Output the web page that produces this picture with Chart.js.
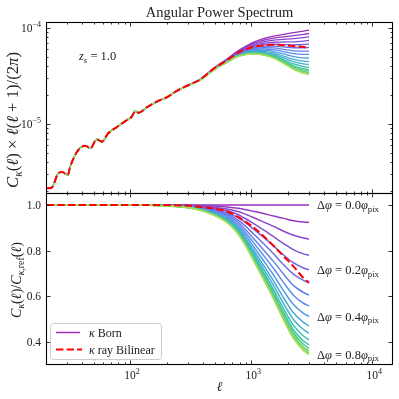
<!DOCTYPE html>
<html lang="en">
<head>
  <meta charset="UTF-8">
  <title>Angular Power Spectrum</title>
  <script src="https://cdn.jsdelivr.net/npm/chart.js"></script>
  <style>
    html, body { margin: 0; padding: 0; background: #ffffff; }
    #wrap { position: relative; width: 399px; height: 399px; }
    #wrap canvas { position: absolute; left: 0; top: 0; }
  </style>
</head>
<body>
<div id="wrap">
  <canvas id="bottom_panel" width="399" height="399"></canvas>
  <canvas id="top_panel" width="399" height="399"></canvas>
</div>

<script>
  // multipoles shared by every curve
  const ell = [20.5, 22.5, 25.5, 27.5, 30.5, 32, 36.5, 42.5, 47, 53, 58.5, 66, 80, 94, 103, 110, 117,
               137, 166, 201, 243, 304, 380, 490, 630, 750, 860, 1040, 1260, 1530, 1850, 2240, 2700, 3000];

  // l(l+1)C/(2pi) of the Born map with no shift (top panel reference)
  const bornRef = [2.14e-6, 2.17e-6, 3.06e-6, 3.16e-6, 2.94e-6, 3.60e-6, 5.15e-6, 5.94e-6, 5.58e-6, 6.92e-6,
                   6.55e-6, 8.0e-6, 9.53e-6, 1.10e-5, 1.19e-5, 1.36e-5, 1.31e-5,
                   1.49e-5, 1.71e-5, 1.90e-5, 2.22e-5, 2.55e-5, 2.94e-5, 3.82e-5, 4.75e-5, 5.61e-5, 6.24e-5,
                   7.1e-5, 7.75e-5, 8.25e-5, 8.6e-5, 8.95e-5, 9.3e-5, 9.5e-5];

  // ray traced, bilinear interpolation
  const rayBilinear = [2.14e-6, 2.17e-6, 3.06e-6, 3.16e-6, 2.94e-6, 3.60e-6, 5.15e-6, 5.94e-6, 5.58e-6, 6.92e-6,
                       6.55e-6, 8.0e-6, 9.53e-6, 1.10e-5, 1.19e-5, 1.36e-5, 1.31e-5,
                       1.49e-5, 1.71e-5, 1.90e-5, 2.22e-5, 2.55e-5, 2.92e-5, 3.77e-5, 4.61e-5, 5.36e-5, 5.85e-5,
                       6.34e-5, 6.61e-5, 6.70e-5, 6.62e-5, 6.49e-5, 6.34e-5, 6.17e-5];

  const rayRatio = [1, 1, 1, 1, 1, 1, 1, 1, 1, 1, 1, 1, 1, 1, 1, 1, 1,
                    1.000, 0.999, 0.999, 0.998, 0.996, 0.991, 0.984, 0.972, 0.952, 0.933, 0.902, 0.864, 0.820, 0.775, 0.730, 0.680, 0.660];

  // shift in units of the pixel size, one Born curve each
  const dphi = [0.0, 0.05, 0.1, 0.15, 0.2, 0.25, 0.3, 0.35, 0.4, 0.45, 0.5, 0.55, 0.6, 0.65, 0.7, 0.75, 0.8];

  // C(l) / C_ref(l) for each shift
  const bornRatio = [
    [1, 1, 1, 1, 1, 1, 1, 1, 1, 1, 1, 1, 1, 1, 1, 1, 1, 1, 1, 1, 1, 1, 1, 1, 1, 1, 1, 1, 1, 1, 1, 1, 1, 1],
    [1, 1, 1, 1, 1, 1, 1, 1, 1, 1, 1, 1, 1, 1, 1, 1, 1, 1.000, 1.000, 0.999, 0.999, 0.999, 0.997, 0.995, 0.991, 0.986, 0.981, 0.972, 0.962, 0.951, 0.941, 0.931, 0.925, 0.923],
    [1, 1, 1, 1, 1, 1, 1, 1, 1, 1, 1, 1, 1, 1, 1, 1, 1, 1.000, 0.999, 0.999, 0.998, 0.997, 0.995, 0.990, 0.982, 0.973, 0.963, 0.945, 0.926, 0.906, 0.885, 0.867, 0.855, 0.851],
    [1, 1, 1, 1, 1, 1, 1, 1, 1, 1, 1, 1, 1, 1, 1, 1, 1, 1.000, 0.999, 0.998, 0.998, 0.996, 0.992, 0.985, 0.974, 0.961, 0.945, 0.919, 0.891, 0.861, 0.831, 0.803, 0.786, 0.780],
    [1, 1, 1, 1, 1, 1, 1, 1, 1, 1, 1, 1, 1, 1, 1, 1, 1, 0.999, 0.999, 0.998, 0.997, 0.995, 0.990, 0.981, 0.966, 0.949, 0.930, 0.895, 0.859, 0.821, 0.781, 0.746, 0.724, 0.716],
    [1, 1, 1, 1, 1, 1, 1, 1, 1, 1, 1, 1, 1, 1, 1, 1, 1, 0.999, 0.999, 0.998, 0.996, 0.994, 0.988, 0.977, 0.960, 0.939, 0.916, 0.874, 0.831, 0.786, 0.738, 0.696, 0.670, 0.660],
    [1, 1, 1, 1, 1, 1, 1, 1, 1, 1, 1, 1, 1, 1, 1, 1, 1, 0.999, 0.998, 0.997, 0.996, 0.993, 0.986, 0.973, 0.954, 0.930, 0.902, 0.854, 0.804, 0.752, 0.697, 0.647, 0.617, 0.606],
    [1, 1, 1, 1, 1, 1, 1, 1, 1, 1, 1, 1, 1, 1, 1, 1, 1, 0.999, 0.998, 0.997, 0.995, 0.992, 0.985, 0.970, 0.948, 0.921, 0.890, 0.836, 0.780, 0.722, 0.660, 0.604, 0.570, 0.558],
    [1, 1, 1, 1, 1, 1, 1, 1, 1, 1, 1, 1, 1, 1, 1, 1, 1, 0.999, 0.998, 0.997, 0.995, 0.991, 0.983, 0.967, 0.942, 0.913, 0.879, 0.819, 0.757, 0.693, 0.624, 0.563, 0.526, 0.512],
    [1, 1, 1, 1, 1, 1, 1, 1, 1, 1, 1, 1, 1, 1, 1, 1, 1, 0.999, 0.998, 0.996, 0.994, 0.990, 0.981, 0.964, 0.938, 0.906, 0.869, 0.804, 0.737, 0.667, 0.593, 0.527, 0.486, 0.471],
    [1, 1, 1, 1, 1, 1, 1, 1, 1, 1, 1, 1, 1, 1, 1, 1, 1, 0.999, 0.998, 0.996, 0.994, 0.989, 0.980, 0.962, 0.934, 0.900, 0.861, 0.792, 0.721, 0.647, 0.568, 0.498, 0.455, 0.439],
    [1, 1, 1, 1, 1, 1, 1, 1, 1, 1, 1, 1, 1, 1, 1, 1, 1, 0.999, 0.998, 0.996, 0.994, 0.989, 0.979, 0.960, 0.930, 0.895, 0.854, 0.782, 0.707, 0.628, 0.546, 0.472, 0.427, 0.410],
    [1, 1, 1, 1, 1, 1, 1, 1, 1, 1, 1, 1, 1, 1, 1, 1, 1, 0.999, 0.998, 0.996, 0.993, 0.988, 0.979, 0.958, 0.928, 0.891, 0.848, 0.774, 0.696, 0.614, 0.529, 0.452, 0.405, 0.388],
    [1, 1, 1, 1, 1, 1, 1, 1, 1, 1, 1, 1, 1, 1, 1, 1, 1, 0.999, 0.997, 0.996, 0.993, 0.988, 0.978, 0.957, 0.926, 0.888, 0.845, 0.768, 0.688, 0.605, 0.517, 0.439, 0.391, 0.373],
    [1, 1, 1, 1, 1, 1, 1, 1, 1, 1, 1, 1, 1, 1, 1, 1, 1, 0.999, 0.997, 0.996, 0.993, 0.988, 0.978, 0.957, 0.925, 0.886, 0.842, 0.764, 0.682, 0.597, 0.508, 0.428, 0.379, 0.361],
    [1, 1, 1, 1, 1, 1, 1, 1, 1, 1, 1, 1, 1, 1, 1, 1, 1, 0.999, 0.997, 0.995, 0.993, 0.988, 0.977, 0.956, 0.924, 0.885, 0.839, 0.760, 0.678, 0.592, 0.501, 0.420, 0.370, 0.352],
    [1, 1, 1, 1, 1, 1, 1, 1, 1, 1, 1, 1, 1, 1, 1, 1, 1, 0.999, 0.997, 0.995, 0.993, 0.988, 0.977, 0.955, 0.923, 0.883, 0.838, 0.758, 0.674, 0.587, 0.496, 0.414, 0.363, 0.345]
  ];

  // which shifts get a text label on the right
  const labelledShifts = [0, 4, 8, 16];
  const shiftLabels = ['0.0', '0.2', '0.4', '0.8'];

  // axis ticks
  const xMajorTicks = [100, 1000, 10000];
  const xTickLabels = ['2', '3', '4'];
  const topMajorTicks = [1e-5, 1e-4];
  const topTickLabels = ['\u22125', '\u22124'];
  const bottomTicks = [0.4, 0.6, 0.8, 1.0];
  const bottomTickLabels = ['0.4', '0.6', '0.8', '1.0'];

  const bornColors = ['#9a2fb8', '#9538c2', '#8c45cc', '#8253d6', '#7661de', '#6b70e6', '#637fea', '#5b8dea',
                      '#529be3', '#48a8d6', '#40b3c6', '#3abcb2', '#3ec49d', '#4dca89', '#66d176', '#86d866', '#a8de58'];

  const SERIF = '"Liberation Serif", "DejaVu Serif", serif';

  // ---- little helpers for math-ish text ----
  // style: '' roman, 'i' italic, 'si' subscript italic, 'sr' subscript roman, 'u' superscript
  function fontFor(st, size) {
    var small = (st === 'si' || st === 'sr' || st === 'u');
    var italic = (st === 'i' || st === 'si');
    return (italic ? 'italic ' : '') + (small ? size * 0.7 : size).toFixed(2) + 'px ' + SERIF;
  }
  function richWidth(ctx, parts, size) {
    var w = 0;
    parts.forEach(function (p) { ctx.font = fontFor(p[1], size); w += ctx.measureText(p[0]).width; });
    return w;
  }
  function drawRich(ctx, parts, x, y, size, align) {
    var w = richWidth(ctx, parts, size);
    var cx = align === 'center' ? x - w / 2 : (align === 'right' ? x - w : x);
    ctx.textAlign = 'left';
    ctx.textBaseline = 'alphabetic';
    parts.forEach(function (p) {
      var st = p[1];
      ctx.font = fontFor(st, size);
      var dy = 0;
      if (st === 'si' || st === 'sr') dy = size * 0.22;
      if (st === 'u') dy = -size * 0.4;
      ctx.fillText(p[0], cx, y + dy);
      cx += ctx.measureText(p[0]).width;
    });
  }

  function xMinorTicks(scale) {
    var out = [];
    for (var dec = 10; dec <= 10000; dec *= 10) {
      for (var m = 2; m <= 9; m++) {
        var v = m * dec;
        if (v > scale.min && v < scale.max) out.push(v);
      }
    }
    return out;
  }

  // spines plus inward ticks on all four sides
  function drawFrame(chart, yMajor, yMinor) {
    var ctx = chart.ctx, a = chart.chartArea;
    var xs = chart.scales.x, ys = chart.scales.y;
    ctx.save();
    ctx.strokeStyle = '#000000';
    function seg(x1, y1, x2, y2) { ctx.beginPath(); ctx.moveTo(x1, y1); ctx.lineTo(x2, y2); ctx.stroke(); }
    ctx.lineWidth = 0.8;
    xMinorTicks(xs).forEach(function (v) {
      var p = Math.round(xs.getPixelForValue(v)) + 0.5;
      seg(p, a.bottom, p, a.bottom - 2.5); seg(p, a.top, p, a.top + 2.5);
    });
    xMajorTicks.forEach(function (v) {
      var p = Math.round(xs.getPixelForValue(v)) + 0.5;
      seg(p, a.bottom, p, a.bottom - 4.5); seg(p, a.top, p, a.top + 4.5);
    });
    yMinor.forEach(function (v) {
      var p = Math.round(ys.getPixelForValue(v)) + 0.5;
      seg(a.left, p, a.left + 2.5, p); seg(a.right, p, a.right - 2.5, p);
    });
    yMajor.forEach(function (v) {
      var p = Math.round(ys.getPixelForValue(v)) + 0.5;
      seg(a.left, p, a.left + 4.5, p); seg(a.right, p, a.right - 4.5, p);
    });
    ctx.lineWidth = 1.1;
    ctx.strokeRect(a.left + 0.5, a.top + 0.5, a.right - a.left - 1, a.bottom - a.top - 1);
    ctx.restore();
  }

  var topMinor = [];
  [1e-6, 1e-5].forEach(function (dec) { for (var m = 2; m <= 9; m++) topMinor.push(m * dec); });

  var topPlugin = {
    id: 'topDecor',
    afterDraw: function (chart) {
      var ctx = chart.ctx, a = chart.chartArea, ys = chart.scales.y;
      drawFrame(chart, topMajorTicks, topMinor);
      ctx.save();
      ctx.fillStyle = '#222222';
      // title
      ctx.font = '14.5px ' + SERIF;
      ctx.textAlign = 'center';
      ctx.fillText('Angular Power Spectrum', (a.left + a.right) / 2, 17);
      // y tick labels
      topMajorTicks.forEach(function (v, i) {
        drawRich(ctx, [['10', ''], [topTickLabels[i], 'u']], a.left - 5, ys.getPixelForValue(v) + 4, 11.5, 'right');
      });
      // source redshift
      drawRich(ctx, [['z', 'i'], ['s', 'si'], [' = 1.0', '']], 79, 60, 12.5, 'left');
      // y label, rotated
      var parts = [['C', 'i'], ['\u03ba', 'si'], ['(', ''], ['\u2113', 'i'], [') \u00d7 ', ''], ['\u2113', 'i'],
                   ['(', ''], ['\u2113', 'i'], [' + 1)/(2', ''], ['\u03c0', 'i'], [')', '']];
      var size = 12 * 136 / richWidth(ctx, parts, 12);
      ctx.translate(18, 120);
      ctx.rotate(-Math.PI / 2);
      drawRich(ctx, parts, 0, 0, size, 'center');
      ctx.restore();
    }
  };

  var bottomPlugin = {
    id: 'bottomDecor',
    afterDraw: function (chart) {
      var ctx = chart.ctx, a = chart.chartArea, xs = chart.scales.x, ys = chart.scales.y;
      drawFrame(chart, bottomTicks, []);
      ctx.save();
      ctx.fillStyle = '#222222';
      xMajorTicks.forEach(function (v, i) {
        drawRich(ctx, [['10', ''], [xTickLabels[i], 'u']], xs.getPixelForValue(v) + 2, 379, 11.5, 'center');
      });
      bottomTicks.forEach(function (v, i) {
        drawRich(ctx, [[bottomTickLabels[i], '']], a.left - 5, ys.getPixelForValue(v) + 4, 11.5, 'right');
      });
      drawRich(ctx, [['\u2113', 'i']], (a.left + a.right) / 2, 391, 13.5, 'center');

      // shift labels at the end of their curves
      labelledShifts.forEach(function (idx, i) {
        var row = bornRatio[idx];
        var yv = ys.getPixelForValue(row[row.length - 1]);
        drawRich(ctx, [['\u0394', ''], ['\u03c6', 'i'], [' = ' + shiftLabels[i], ''], ['\u03c6', 'i'], ['pix', 'sr']],
                 317, yv + 4, 12.5, 'left');
      });

      // legend
      ctx.beginPath();
      ctx.roundRect(50.5, 323.5, 111, 36, 3);
      ctx.fillStyle = 'rgba(255,255,255,0.85)';
      ctx.fill();
      ctx.strokeStyle = '#cccccc';
      ctx.lineWidth = 1;
      ctx.stroke();

      ctx.strokeStyle = bornColors[0];
      ctx.lineWidth = 1.5;
      ctx.beginPath(); ctx.moveTo(56, 332.5); ctx.lineTo(80, 332.5); ctx.stroke();
      ctx.strokeStyle = '#ff0000';
      ctx.lineWidth = 2;
      ctx.setLineDash([7.4, 3.2]);
      ctx.beginPath(); ctx.moveTo(56, 349.5); ctx.lineTo(82, 349.5); ctx.stroke();
      ctx.setLineDash([]);

      ctx.fillStyle = '#222222';
      drawRich(ctx, [['\u03ba', 'i'], [' Born', '']], 89, 336.5, 12, 'left');
      drawRich(ctx, [['\u03ba', 'i'], [' ray Bilinear', '']], 89, 353.5, 12, 'left');

      // y label, rotated
      var parts = [['C', 'i'], ['\u03ba', 'si'], ['(', ''], ['\u2113', 'i'], [')/', ''], ['C', 'i'],
                   ['\u03ba', 'si'], [',ref', 'sr'], ['(', ''], ['\u2113', 'i'], [')', '']];
      var size = 12 * 76 / richWidth(ctx, parts, 12);
      ctx.translate(21, 280);
      ctx.rotate(-Math.PI / 2);
      drawRich(ctx, parts, 0, 0, size, 'center');
      ctx.restore();
    }
  };

  // lower order is drawn on top in Chart.js
  function lineSet(points, color, width, order, dash) {
    return {
      data: points,
      borderColor: color,
      borderWidth: width,
      borderDash: dash || [],
      order: order,
      pointRadius: 0,
      fill: false,
      cubicInterpolationMode: 'monotone'
    };
  }

  function baseOptions(padding, yScale) {
    return {
      responsive: false,
      animation: false,
      devicePixelRatio: 1,
      events: [],
      layout: { padding: padding },
      plugins: { legend: { display: false }, tooltip: { enabled: false } },
      scales: {
        x: { type: 'logarithmic', min: 20.2, max: 14800, display: false },
        y: yScale
      }
    };
  }

  // top panel: spectra
  var topSets = bornRatio.map(function (row, i) {
    return lineSet(ell.map(function (l, k) { return { x: l, y: bornRef[k] * row[k] }; }),
                   bornColors[i], 1.3, bornRatio.length - i);
  });
  topSets.push(lineSet(ell.map(function (l, k) { return { x: l, y: rayBilinear[k] }; }), '#ff0000', 2, 0, [7.4, 3.2]));

  new Chart(document.getElementById('top_panel'), {
    type: 'line',
    data: { datasets: topSets },
    options: baseOptions({ left: 46, right: 6, top: 22, bottom: 205 },
                         { type: 'logarithmic', min: 1.866e-6, max: 1.155e-4, display: false }),
    plugins: [topPlugin]
  });

  // bottom panel: ratios
  var bottomSets = bornRatio.map(function (row, i) {
    return lineSet(ell.map(function (l, k) { return { x: l, y: row[k] }; }),
                   bornColors[i], 1.5, bornRatio.length - i);
  });
  bottomSets.push(lineSet(ell.map(function (l, k) { return { x: l, y: rayRatio[k] }; }), '#ff0000', 2, 0, [7.4, 3.2]));

  new Chart(document.getElementById('bottom_panel'), {
    type: 'line',
    data: { datasets: bottomSets },
    options: baseOptions({ left: 46, right: 6, top: 193, bottom: 34 },
                         { type: 'linear', min: 0.3, max: 1.052, display: false }),
    plugins: [bottomPlugin]
  });
</script>
</body>
</html>
